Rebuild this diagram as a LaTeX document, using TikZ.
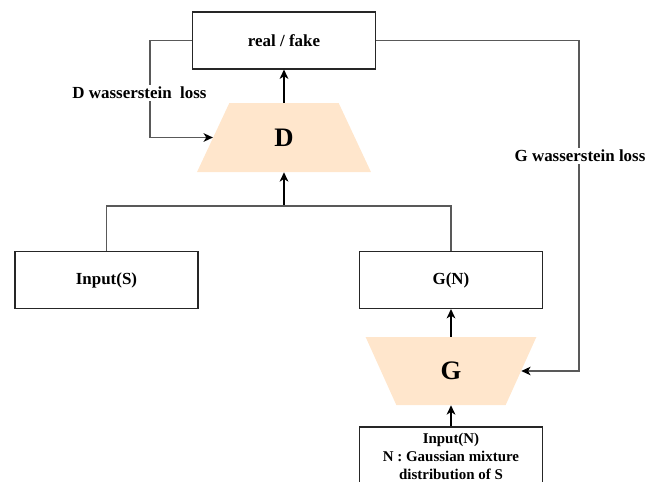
\documentclass[tikz,border=0pt]{standalone}
\usepackage{fontspec}
\setmainfont{Liberation Serif}
\usetikzlibrary{shapes.geometric,arrows.meta,calc}
\definecolor{peach}{HTML}{FFE6CC}
\tikzset{
  box/.style={draw=black!85,line width=0.8pt,fill=white,minimum width=183*0.75pt,minimum height=57*0.75pt,inner sep=0pt,
    font=\fontsize{12.7}{15}\selectfont\bfseries},
  trap/.style={trapezium,trapezium stretches=true,trapezium left angle=72,trapezium right angle=72,
    fill=peach,draw=none,minimum width=174*0.75pt,minimum height=69*0.75pt,inner sep=0pt,
    font=\fontsize{20}{24}\selectfont\bfseries},
  thickarrow/.style={draw=black,line width=1.3pt,-{Stealth[length=7pt,width=6.5pt,inset=2pt]}},
  loopline/.style={draw=black!65,line width=0.8pt},
  looparrow/.style={loopline,-{Stealth[length=7pt,width=6.5pt,inset=2pt,black]}},
  lbl/.style={fill=white,inner sep=1.5pt,font=\fontsize{12.7}{15}\selectfont\bfseries}
}
\begin{document}
\begin{tikzpicture}[x=0.75pt,y=-0.75pt]
\useasboundingbox (0,0) rectangle (662,482);
\clip (0,0) rectangle (662,482);
% nodes
\node[box] (rf) at (284,40.5) {real / fake};
\node[trap] (D) at (284,137.5) {D};
\node[box] (S) at (106.5,280) {Input(S)};
\node[box] (GN) at (451,280) {G(N)};
\node[trap,shape border rotate=180,minimum width=171*0.75pt,minimum height=68*0.75pt] (G) at (451,371) {G};
\node[box,minimum height=58*0.75pt,align=center,font=\fontsize{11.2}{13.5}\selectfont\bfseries] (IN) at (451,456)
  {Input(N)\\N : Gaussian mixture\\distribution of S};
% coordinates
\coordinate (lc) at (150,93);
\coordinate (rc) at (579,156);
\coordinate (j) at (284,206);
% connectors
\draw[thickarrow] (D.north) -- (D.north |- rf.south);
\draw[thickarrow] (j) -- (j |- D.south);
\draw[thickarrow] (G.north) -- (G.north |- GN.south);
\draw[thickarrow] (IN.north) -- (IN.north |- G.south);
\draw[loopline] (S.north) |- (j) -| (GN.north);
\draw[looparrow] (rf.west) -| (lc) |- (D.west);
\draw[looparrow] (rf.east) -| (rc) |- (G.east);
% labels
\node[lbl] (dl) at (139.5,93) {D wasserstein\ \ loss};
\node[lbl] (gl) at (580,156) {G wasserstein loss};
\end{tikzpicture}
\end{document}
